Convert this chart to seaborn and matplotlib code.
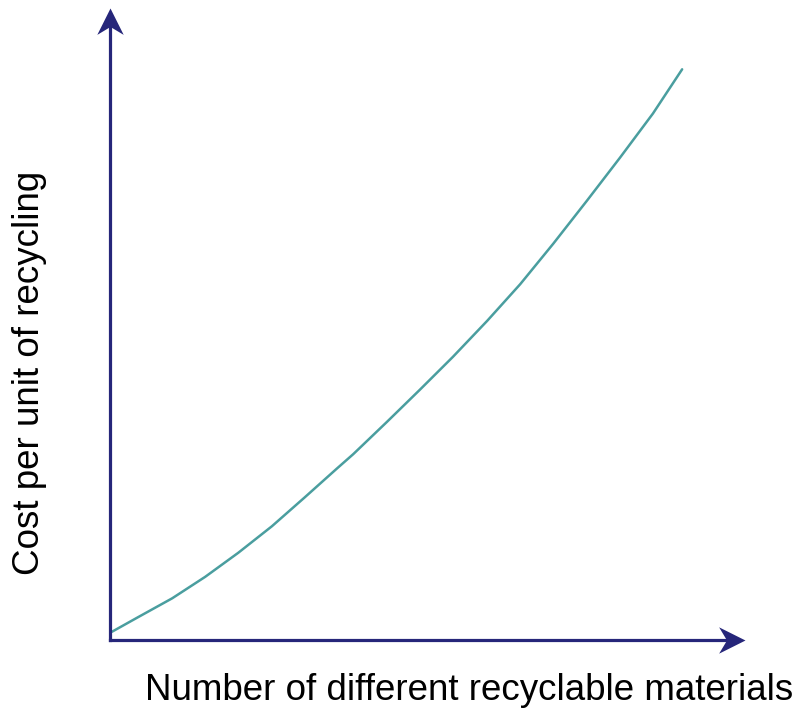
import pandas as pd
import matplotlib
matplotlib.use("Agg")
import matplotlib.pyplot as plt
from matplotlib.path import Path
import seaborn as sns

# Curve (arbitrary units, axes run 0-100)
materials = [0.3, 4.4, 9.8, 15.0, 20.2, 25.5, 30.7, 35.7, 38.3, 43.6,
             48.8, 54.0, 59.4, 64.6, 69.8, 75.1, 80.3, 85.5, 90.1]
cost = [1.3, 3.6, 6.6, 10.0, 13.8, 18.0, 22.6, 27.1, 29.4, 34.5,
        39.6, 44.8, 50.5, 56.3, 62.7, 69.5, 76.3, 83.3, 90.3]

x_label = "Number of different recyclable materials"
y_label = "Cost per unit of recycling"

sns.set_style("white")
plt.rcParams['font.family'] = ['Liberation Sans', 'DejaVu Sans']

fig = plt.figure(figsize=(8.03, 7.08), dpi=100)
ax = fig.add_axes([110 / 803, 68 / 708, 635 / 803, 632 / 708])

df = pd.DataFrame({"materials": materials, "cost": cost})
sns.lineplot(data=df, x="materials", y="cost", ax=ax, color="#4a9e9f",
             linewidth=1.8, solid_joinstyle="round")

ax.set_xlim(0, 100)
ax.set_ylim(0, 100)
for s in ax.spines.values():
    s.set_visible(False)
ax.set_xticks([])
ax.set_yticks([])
ax.set_xlabel("")
ax.set_ylabel("")

# axis lines with notched arrowheads
navy = "#26267a"
up_head = Path([(0, 0), (-0.5, -1), (0, -0.7), (0.5, -1), (0, 0)])
right_head = Path([(0, 0), (-1, 0.5), (-0.7, 0), (-1, -0.5), (0, 0)])
ax.plot([0, 0], [0, 0.97], transform=ax.transAxes, color=navy, lw=2.3,
        clip_on=False, solid_capstyle="projecting")
ax.plot([0, 0.97], [0, 0], transform=ax.transAxes, color=navy, lw=2.3,
        clip_on=False, solid_capstyle="projecting")
ax.plot([0], [1], transform=ax.transAxes, marker=up_head, markersize=38,
        color=navy, clip_on=False, markeredgewidth=0)
ax.plot([1], [0], transform=ax.transAxes, marker=right_head, markersize=38,
        color=navy, clip_on=False, markeredgewidth=0)

fig.text(469 / 803, 1 - 690 / 708, x_label, ha="center", va="center",
         fontsize=26.5, color="black")
fig.text(30 / 803, 1 - 373 / 708, y_label, ha="center", va="center",
         fontsize=26.5, rotation=90, color="black")

fig.savefig("out.png", dpi=100)
